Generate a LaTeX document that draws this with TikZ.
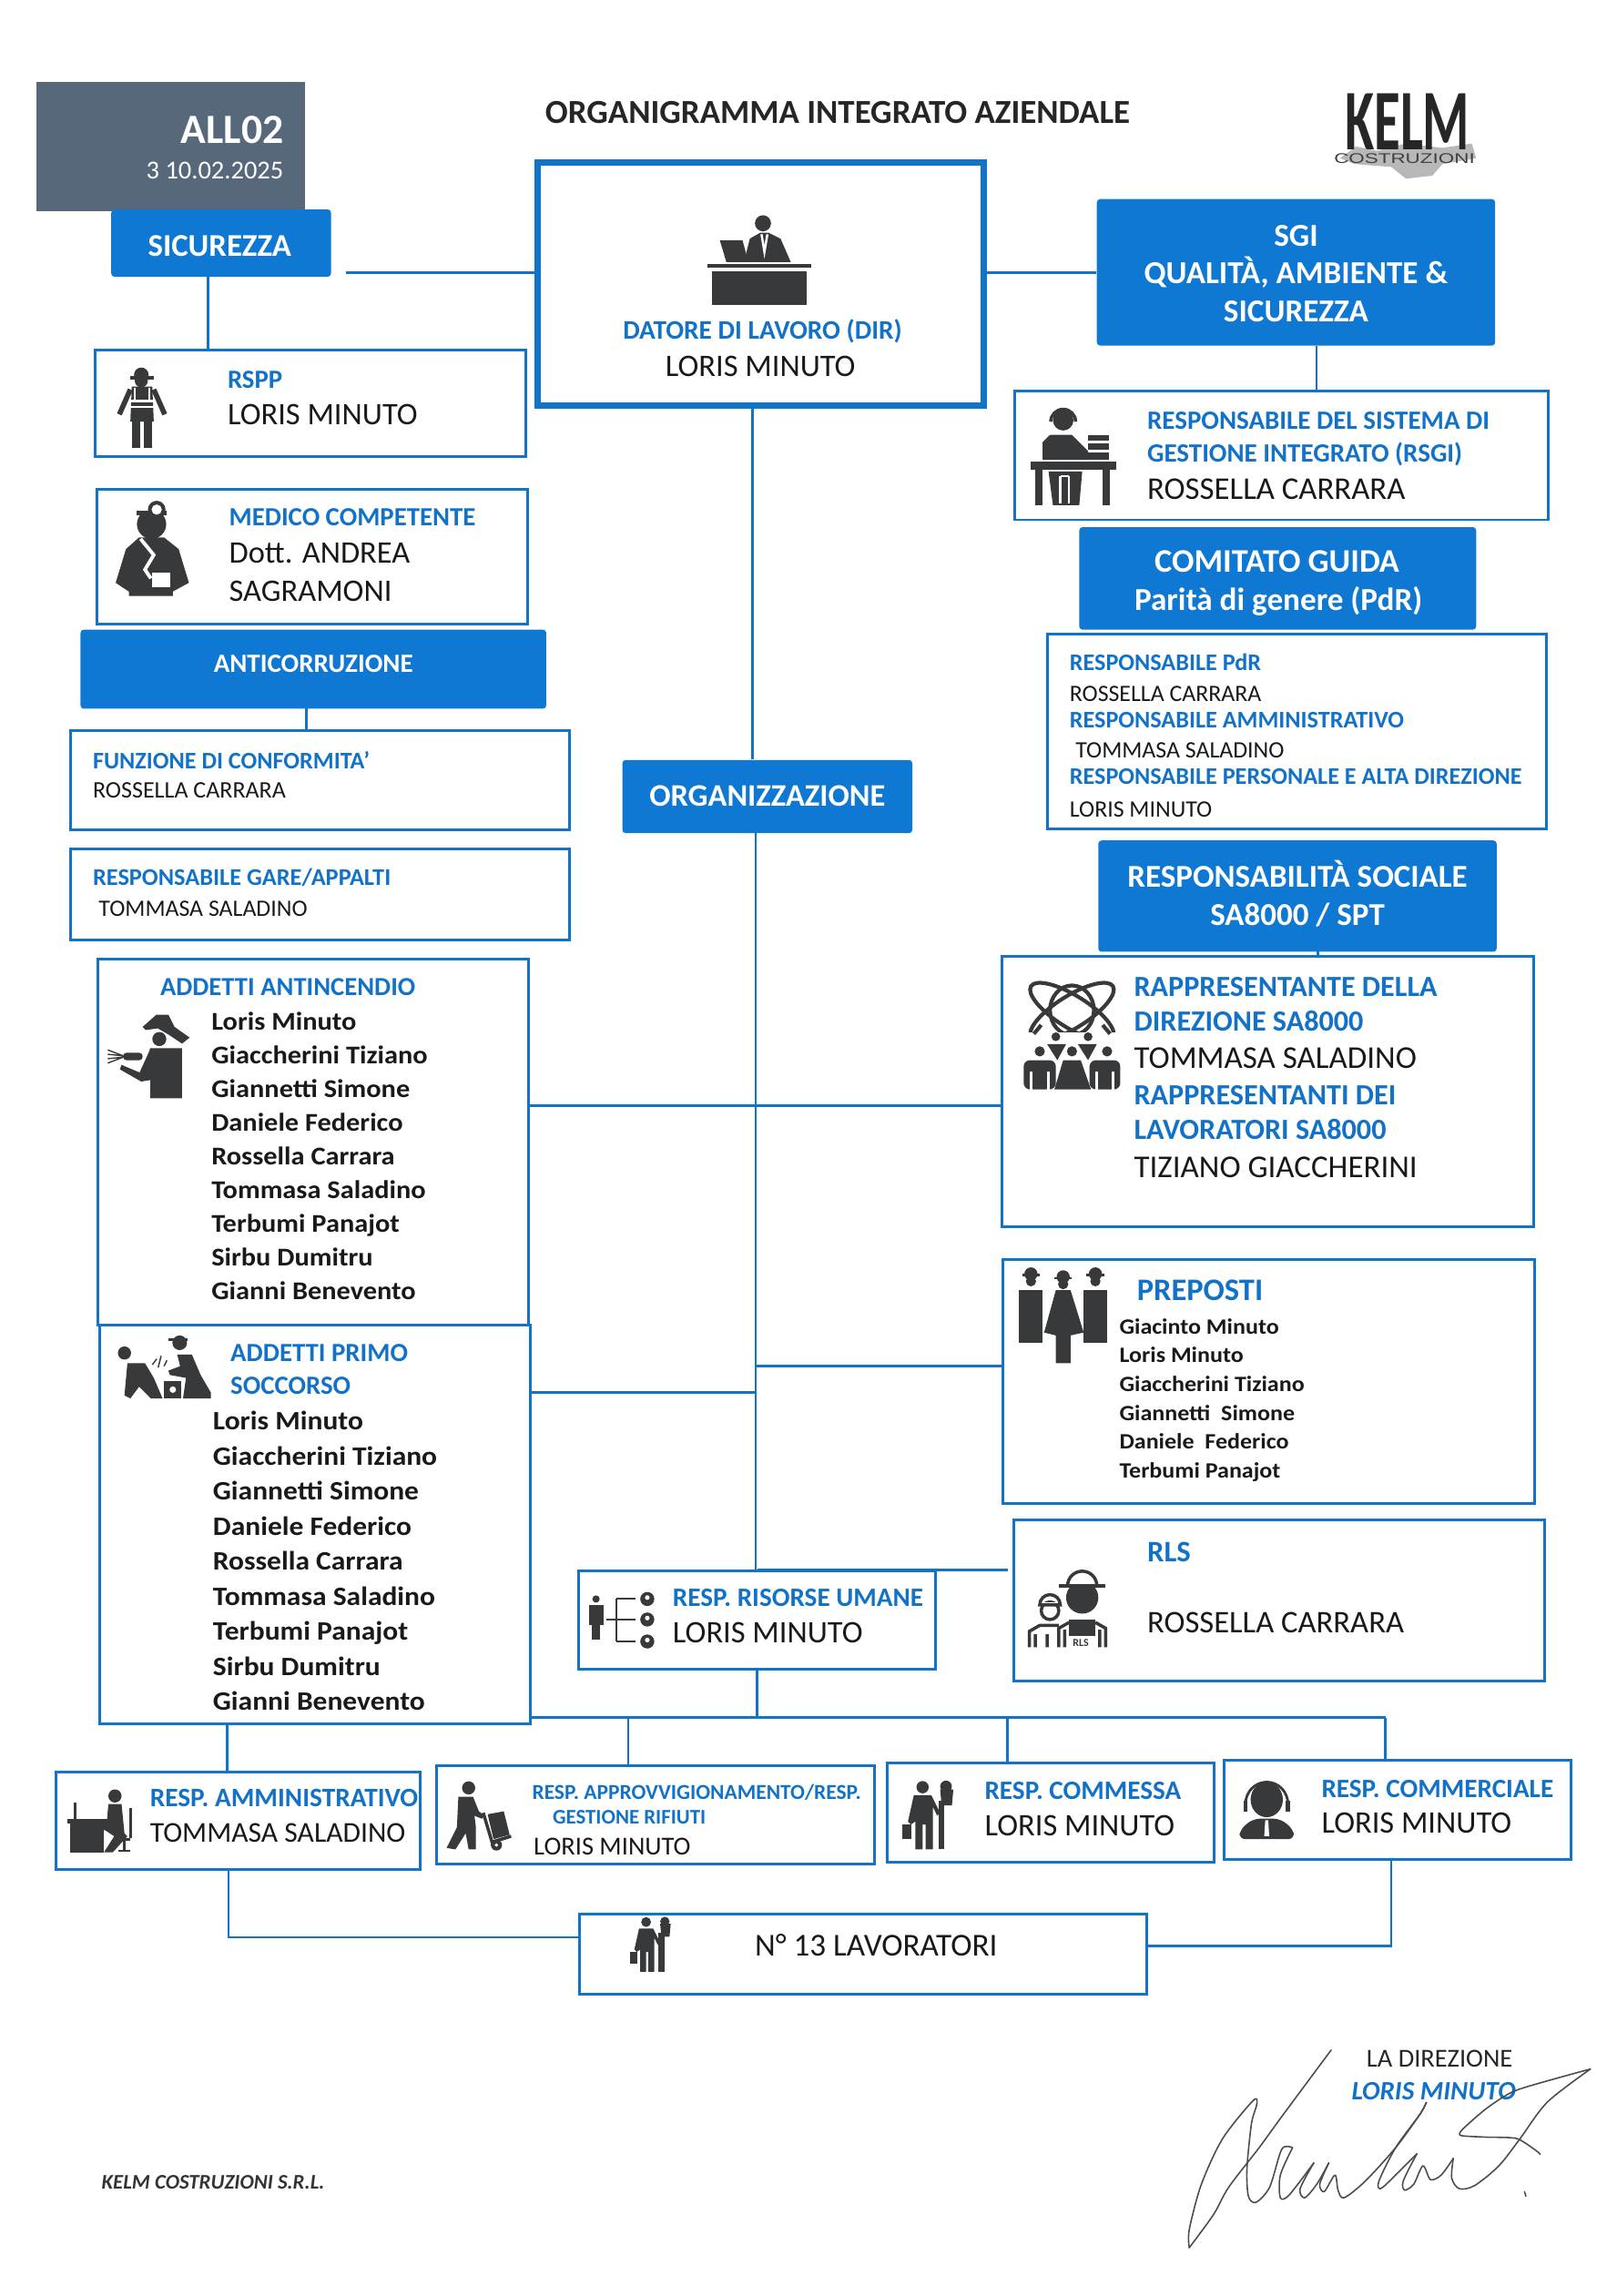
\documentclass[tikz,border=0pt]{standalone}
\usepackage{fontspec}
\usepackage{xcolor}
\usepackage{tikz}
\usetikzlibrary{positioning, calc, fit}
\setmainfont{Carlito}
\newfontfamily\logofont[FakeStretch=0.62]{Carlito}
\newfontfamily\logowide[FakeStretch=1.45]{Liberation Sans}
\newfontfamily\widefont[FakeStretch=1.08]{Carlito}
\newcommand{\fs}[2]{\fontsize{#1}{#2}\selectfont}
\definecolor{barblue}{HTML}{0E78D2}
\definecolor{lineblue}{HTML}{1274C8}
\definecolor{roleblue}{HTML}{1272C8}
\definecolor{slategrey}{HTML}{566879}
\definecolor{icondark}{HTML}{38393B}
\tikzset{
  outbox/.style={draw=lineblue, line width=0.85pt, inner sep=0pt},
  bossbox/.style={draw=lineblue, line width=2pt, inner sep=0pt},
  bluebar/.style={fill=barblue, rounded corners=1pt, inner sep=0pt},
  bartext/.style={text=white, inner sep=0pt, align=center, anchor=mid, yshift=-0.8pt, font=\bfseries\fs{#1}{#1}},
  rolet/.style={text=roleblue, inner sep=0pt, anchor=mid west, yshift=-0.3pt, font=\bfseries\fs{#1}{#1}},
  rolet/.default=8.3,
  persont/.style={text=black!90, inner sep=0pt, anchor=mid west, yshift=-0.7pt, font=\fs{#1}{#1}},
  persont/.default=9.8,
  teamlist/.style 2 args={text=black!90, inner sep=0pt, anchor=north west, align=left, font=\widefont\bfseries\fs{#1}{#2}},
  conn/.style={draw=lineblue, line width=0.8pt},
  iconfill/.style={fill=icondark, draw=none},
  iconline/.style={draw=icondark, line width=1pt},
  iconhole/.style={draw=white, line width=0.7pt},
  penline/.style={draw=black!70, line width=0.45pt, line cap=round, line join=round},
  deskboss/.pic={
    \fill[iconfill] (38,6.5) circle (5.5);
    \fill[iconfill] (25,33) -- (29,17) -- (36,13) -- (42,13) -- (50,17) -- (57,33) -- cycle;
    \fill[iconfill] (8.5,18) -- (24,18) -- (28,33) -- (13,33) -- cycle;
    \draw[iconhole] (37,14) -- (39,26) -- (41,14);
    \fill[iconfill] (0,34.5) rectangle (71,37);
    \fill[iconfill] (3,39.5) rectangle (68,62);
  },
  vestman/.pic={
    \fill[iconfill] (16.5,6) circle (5);
    \fill[iconfill] (9,7) rectangle (25,9);
    \fill[iconfill] (16.5,10) circle (4.5);
    \fill[iconfill] (10,14) -- (24,14) -- (25,38) -- (9,38) -- cycle;
    \fill[iconfill] (10,38) rectangle (15.5,56);
    \fill[iconfill] (18,38) rectangle (24,56);
    \draw[iconline, line width=1.6pt] (9,16) -- (1.5,33);
    \draw[iconline, line width=1.6pt] (25,16) -- (32.5,33);
    \draw[iconhole] (9,24) -- (25,24) (9,28) -- (25,28) (12,15) -- (12,24) (22,15) -- (22,24);
  },
  doctorman/.pic={
    \fill[iconfill] (25.5,15) circle (10);
    \fill[white] (20,0) rectangle (36,8);
    \fill[iconfill] (15,6) rectangle (36,9);
    \fill[iconfill] (29,5) circle (6);
    \fill[white] (29,5) circle (3.5);
    \fill[iconfill] (17,24) -- (34,24) -- (44,32) -- (51,55) -- (40,61) -- (40,64) -- (10,64) -- (10,61) -- (1,55) -- (8,32) -- cycle;
    \draw[iconhole, line width=1.1pt] (18,25) -- (27,36) -- (21,46) -- (25,52);
    \fill[white] (26,48) rectangle (38,58);
  },
  bookdesk/.pic={
    \fill[iconfill] (22,9) circle (7);
    \draw[iconline] (13.5,10) arc (180:360:8.5);
    \fill[iconfill] (13,19) -- (28,19) -- (39,30) -- (39,36) -- (8,36) -- (8,24) -- cycle;
    \fill[iconfill] (39,19) rectangle (53,23);
    \fill[iconfill] (39,25) rectangle (53,29);
    \fill[iconfill] (39,31) rectangle (53,36);
    \fill[iconfill] (0,37) rectangle (58,43);
    \fill[iconfill] (3,43) rectangle (8,67);
    \fill[iconfill] (49,43) rectangle (54,67);
    \fill[iconfill] (12,44) -- (35,44) -- (33,67) -- (15,67) -- cycle;
    \draw[iconhole] (20,47) -- (20,66) (26,47) -- (26,66) (20,47) -- (26,47);
  },
  fireman/.pic={
    \fill[iconfill] (24.4,9.3) -- (33.7,1) -- (42,1) -- (46.2,9.3) -- (56.5,16.6) -- (51.3,20.7) -- (42,14.5) -- (34.8,10.3) -- (26.5,11.4) -- cycle;
    \fill[iconfill] (35.8,17.6) circle (4.8);
    \fill[iconfill] (29.6,23.8) -- (51.3,23.8) -- (51.3,58) -- (29.6,58) -- (29.6,45.6) -- (23.4,46.6) -- (8.9,38.3) -- (9.9,35.2) -- (22.3,40.4) -- (28.5,26.9) -- cycle;
    \fill[iconfill, rounded corners=1pt] (11,27) rectangle (24.4,32);
    \draw[iconline, line width=0.4pt] (11,29) -- (0.6,25) (11,29) -- (0.6,28) (11,30) -- (0.6,31) (11,30) -- (0.6,34);
  },
  firstaid/.pic={
    \fill[iconfill] (4,13) circle (4.5);
    \fill[iconfill] (6,20) -- (18,20) -- (24,30) -- (30,44) -- (22,44) -- (14,36) -- (8,44) -- (4,42) -- cycle;
    \fill[iconfill] (41.7,6) circle (5);
    \fill[iconfill] (34,3) rectangle (47,5);
    \fill[iconfill] (40,14) -- (50,14) -- (56,28) -- (63,40) -- (63,44) -- (44,44) -- (46,30) -- (35,28) -- (34,25) -- (42,22) -- cycle;
    \fill[iconfill] (31,32) rectangle (43,44);
    \fill[white] (37,38) circle (2.2);
    \draw[iconline, line width=0.4pt] (23,21) -- (26,17) (27,23) -- (29,15) (31,22) -- (33,18);
  },
  atompeople/.pic={
    \draw[iconline, line width=1.2pt] (33,19) ellipse [x radius=33, y radius=11, rotate=32];
    \draw[iconline, line width=1.2pt] (33,19) ellipse [x radius=33, y radius=11, rotate=-32];
    \draw[iconline, line width=1.2pt] (33,18) ellipse [x radius=15, y radius=17];
    \fill[white] (-2,33) rectangle (70,74);
    \draw[iconline, line width=1.2pt] (7,34) -- (12,28) (59,34) -- (54,28);
    \fill[iconfill] (22,36) circle (3);
    \fill[iconfill] (44,36) circle (3);
    \fill[iconfill] (11,46) circle (3.5);
    \fill[iconfill] (33,46) circle (3.5);
    \fill[iconfill] (57,46) circle (3.5);
    \fill[iconfill] (16,41) -- (29,41) -- (23,52) -- cycle;
    \fill[iconfill] (37,41) -- (50,41) -- (44,52) -- cycle;
    \fill[iconfill, rounded corners=2pt] (0,52) rectangle (22,72);
    \fill[iconfill] (27,52) -- (39,52) -- (46,72) -- (21,72) -- cycle;
    \fill[iconfill, rounded corners=2pt] (45,52) rectangle (66,72);
    \draw[iconhole] (5,60) -- (5,72) (17,60) -- (17,72) (50,60) -- (50,72) (61,60) -- (61,72);
  },
  threeworkers/.pic={
    \foreach \px/\py in {8/4,30/6,52/4}{
      \fill[iconfill] (\px,\py) circle (4.5);
      \fill[iconfill] (\px-6,\py) rectangle (\px+6,\py+1.5);
      \fill[iconfill] (\px,\py+5) circle (3.5);
    }
    \fill[iconfill] (0,15) rectangle (16,51);
    \fill[iconfill] (44,15) rectangle (60,51);
    \fill[iconfill] (25,15) -- (35,15) -- (44,44) -- (35,46) -- (35,65) -- (25,65) -- (25,46) -- (17,44) -- cycle;
  },
  orgchart/.pic={
    \fill[iconfill] (5,3) circle (2.5);
    \fill[iconfill] (0,7) rectangle (10,21);
    \fill[iconfill] (2,21) rectangle (8,31);
    \draw[iconline, line width=0.6pt] (12,17) -- (19,17) (19,3) -- (19,32) (19,3) -- (32,3) (19,17) -- (32,17) (19,32) -- (32,32);
    \fill[iconfill] (40,3) circle (4.8);
    \fill[iconfill] (40,17) circle (4.8);
    \fill[iconfill] (40,32) circle (4.8);
    \fill[white] (40,2) circle (1.6);
    \fill[white] (40,16) circle (1.6);
    \fill[white] (40,31) circle (1.6);
  },
  rlsworkers/.pic={
    \fill[iconfill] (36,20) circle (11);
    \filldraw[fill=white, draw=icondark, line width=1pt] (26,12) arc (180:360:10) -- cycle;
    \draw[iconline] (20,12) -- (52,12);
    \draw[iconline] (20,54) -- (20,41) -- (27,37) (52,54) -- (52,41) -- (45,37) (24,54) -- (24,42) (48,54) -- (48,42);
    \fill[iconfill] (27,35) rectangle (45,46);
    \draw[iconline] (14,29) circle (6);
    \fill[white] (7,23) rectangle (21,26);
    \draw[iconline] (7,25) arc (180:360:7) -- cycle;
    \draw[iconline] (0,54) -- (0,43) -- (7,39) -- (20,39) (4,54) -- (4,45) (12,54) -- (12,45);
    \node[font=\bfseries\fs{3.4}{3.4}, text=icondark, inner sep=0pt] (rlstag) at (35,51) {RLS};
  },
  officeman/.pic={
    \fill[iconfill] (32.5,4.5) circle (4.5);
    \fill[iconfill] (28,10) -- (37,10) -- (39,30) -- (41,32) -- (31,43) -- (25,43) -- (32,32) -- (26,28) -- (16,27) -- (16,23) -- (27,22) -- cycle;
    \fill[iconfill] (0,20) rectangle (28,23);
    \fill[iconfill] (2,23) rectangle (25,43);
    \draw[iconline, line width=0.8pt] (5.5,9) -- (5.5,20) (43,13) -- (43,33) (34,34) -- (43,34) (39,34) -- (39,42) (35,42) -- (43,42);
  },
  trolleyman/.pic={
    \fill[iconfill] (15,5) circle (4.5);
    \fill[iconfill] (8,11) -- (18,11) -- (22,21) -- (26,24) -- (24,26) -- (19,24) -- (20,32) -- (20,47) -- (15,47) -- (13,36) -- (6,47) -- (0,46) -- (7,32) -- cycle;
    \fill[iconfill] (28,23) -- (39,21) -- (43,37) -- (32,40) -- cycle;
    \draw[iconline] (25,22) -- (31,42) -- (44,38);
    \fill[iconfill] (34,44) circle (3.8);
    \fill[white] (34,44) circle (1.2);
  },
  engineerman/.pic={
    \fill[iconfill] (14,4.5) circle (4.2);
    \fill[iconfill] (8,10) -- (20,10) -- (26,22) -- (24,24) -- (21,18) -- (21,47) -- (16,47) -- (16,30) -- (14,30) -- (14,47) -- (9,47) -- (9,28) -- (6,30) -- (4,28) -- cycle;
    \fill[iconfill] (0,30) rectangle (6.5,40);
    \draw[iconline, line width=1.8pt] (27,14) -- (27,47);
    \fill[iconfill] (30,4) circle (4);
    \fill[iconfill] (26,6) -- (35,6) -- (34,17) -- (27,17) -- cycle;
  },
  headsetman/.pic={
    \fill[iconfill] (19,13) ellipse (11 and 12);
    \draw[iconline, line width=0.8pt] (4.5,16) arc (180:360:14.5 and 15);
    \fill[iconfill] (3,14) rectangle (6,21);
    \fill[iconfill] (32,14) rectangle (35,21);
    \fill[iconfill, rounded corners=2pt] (10,26) -- (28,26) -- (37,33) -- (38,40) -- (0,40) -- (1,33) -- cycle;
    \fill[white] (18,27) -- (20,27) -- (20.7,38) -- (17.3,38) -- cycle;
  }
}
\begin{document}
\begin{tikzpicture}[x=0.016087cm, y=-0.016084cm]
  \useasboundingbox (0,0) rectangle (1104,1568);
  % top of the page
  \node[fill=slategrey, inner sep=0pt, fit={(25,56) (208,144)}] (allbox) {};
  \node[bartext=13, anchor=mid east] (alltxt) at (194,91) {ALL02};
  \node[text=white, inner sep=0pt, anchor=mid east, font=\fs{8.1}{8.1}] (revtxt) at (194,117) {3 10.02.2025};
  \node[inner sep=0pt, text=black!85, font=\bfseries\fs{10.5}{10.5}] (maintitle) at (572,77) {ORGANIGRAMMA INTEGRATO AZIENDALE};
  \fill[black!28] (915,108) -- (926,100) -- (940,103) -- (960,98) -- (985,101) -- (1005,98) -- (1008,108) -- (985,112) -- (978,120) -- (960,122) -- (950,114) -- (925,112) -- cycle;
  \node[inner sep=0pt, text=black!85, font=\logofont\bfseries\fs{27}{27}] (kelm) at (961,83) {KELM};
  \node[inner sep=0pt, text=black!75, font=\logowide\fs{4.4}{4.4}] (costr) at (959,108) {COSTRUZIONI};

  % blue bars
  \node[bluebar, fit={(76,143) (226,189)}] (sicurezza) {};
  \node[bartext=9.9] (sicutxt) at (150,168) {SICUREZZA};
  \node[bluebar, fit={(55,430) (373,484)}] (anticorr) {};
  \node[bartext=8.25] (anticorrtxt) at (214,452) {ANTICORRUZIONE};
  \node[bluebar, fit={(425,519) (623,569)}] (orgz) {};
  \node[bartext=9.8] (orgztxt) at (524,543.5) {ORGANIZZAZIONE};
  \node[bluebar, fit={(749,136) (1021,236)}] (sgi) {};
  \node[bartext=10] (sgitxt1) at (885,161) {SGI};
  \node[bartext=10] (sgitxt2) at (885,187) {QUALITÀ, AMBIENTE \&};
  \node[bartext=10] (sgitxt3) at (885,213) {SICUREZZA};
  \node[bluebar, fit={(737,360) (1008,430)}] (comitato) {};
  \node[bartext=10.3] (comitxt1) at (872,384) {COMITATO GUIDA};
  \node[bartext=10] (comitxt2) at (873,410) {Parità di genere (PdR)};
  \node[bluebar, fit={(750,574) (1022,650)}] (sociale) {};
  \node[bartext=9.95] (socitxt1) at (886,599) {RESPONSABILITÀ SOCIALE};
  \node[bartext=9.95] (socitxt2) at (886,625) {SA8000 / SPT};

  % outlined boxes
  \node[bossbox, fit={(367,111) (672,277)}] (datore) {};
  \node[outbox, fit={(65,239) (359,312)}] (rspp) {};
  \node[outbox, fit={(66,334) (360,426)}] (medico) {};
  \node[outbox, fit={(48,499) (389,567)}] (conform) {};
  \node[outbox, fit={(48,580) (389,642)}] (gare) {};
  \node[outbox, fit={(67,655) (361,905)}] (antinc) {};
  \node[outbox, fit={(68,905) (362,1177)}] (soccorso) {};
  \node[outbox, fit={(693,267) (1057,355)}] (rsgi) {};
  \node[outbox, fit={(715,433) (1056,566)}] (pdr) {};
  \node[outbox, fit={(684,653) (1047,838)}] (rappr) {};
  \node[outbox, fit={(685,860) (1048,1027)}] (preposti) {};
  \node[outbox, fit={(692,1038) (1055,1148)}] (rls) {};
  \node[outbox, fit={(395,1073) (639,1140)}] (risorse) {};
  \node[outbox, fit={(38,1210) (287,1277)}] (ammin) {};
  \node[outbox, fit={(298,1206) (597,1273)}] (approv) {};
  \node[outbox, fit={(606,1204) (829,1272)}] (commessa) {};
  \node[outbox, fit={(836,1202) (1073,1270)}] (commerc) {};
  \node[outbox, fit={(396,1307) (783,1362)}] (crew) {};

  % texts of the boxes
  \node[rolet=8.35] (dirrole) at (425,226) {DATORE DI LAVORO (DIR)};
  \node[persont] (dirname) at (454,250.5) {LORIS MINUTO};
  \node[rolet=8.2] (rspprole) at (155,259) {RSPP};
  \node[persont] (rsppname) at (155,283) {LORIS MINUTO};
  \node[rolet=8.2] (medrole) at (156,353) {MEDICO COMPETENTE};
  \node[persont] (medname1) at (156,378) {Dott. ANDREA};
  \node[persont] (medname2) at (156,404) {SAGRAMONI};
  \node[rolet=7.45] (confrole) at (63,519) {FUNZIONE DI CONFORMITA’};
  \node[persont=7.4] (confname) at (63,538) {ROSSELLA CARRARA};
  \node[rolet=7.5] (garerole) at (63,599) {RESPONSABILE GARE/APPALTI};
  \node[persont=7.35] (garename) at (67,619) {TOMMASA SALADINO};
  \node[rolet=8.15] (firerole) at (109,674) {ADDETTI ANTINCENDIO};
  \node[teamlist={8}{10.5}] (firelist) at (144,691) {Loris Minuto\\Giaccherini Tiziano\\Giannetti Simone\\Daniele Federico\\Rossella Carrara\\Tommasa Saladino\\Terbumi Panajot\\Sirbu Dumitru\\Gianni Benevento};
  \node[rolet=8.2] (aidrole1) at (157,924) {ADDETTI PRIMO};
  \node[rolet=8.2] (aidrole2) at (157,946) {SOCCORSO};
  \node[teamlist={8.3}{10.95}] (aidlist) at (145,963.5) {Loris Minuto\\Giaccherini Tiziano\\Giannetti Simone\\Daniele Federico\\Rossella Carrara\\Tommasa Saladino\\Terbumi Panajot\\Sirbu Dumitru\\Gianni Benevento};
  \node[rolet=8.25] (rsgirole1) at (783,287) {RESPONSABILE DEL SISTEMA DI};
  \node[rolet=8.25] (rsgirole2) at (783,309.5) {GESTIONE INTEGRATO (RSGI)};
  \node[persont=9.9] (rsginame) at (783,334) {ROSSELLA CARRARA};
  \node[rolet=7.45] (pdrrole1) at (730,452) {RESPONSABILE PdR};
  \node[persont=7.35] (pdrname1) at (730,472) {ROSSELLA CARRARA};
  \node[rolet=7.45] (pdrrole2) at (730,491) {RESPONSABILE AMMINISTRATIVO};
  \node[persont=7.35] (pdrname2) at (734,511) {TOMMASA SALADINO};
  \node[rolet=7.45] (pdrrole3) at (730,530) {RESPONSABILE PERSONALE E ALTA DIREZIONE};
  \node[persont=7.35] (pdrname3) at (730,551) {LORIS MINUTO};
  \node[rolet=9.15] (raprole1) at (774,674.5) {RAPPRESENTANTE DELLA};
  \node[rolet=9.15] (raprole2) at (774,698.5) {DIREZIONE SA8000};
  \node[persont=9.95] (rapname1) at (774,723) {TOMMASA SALADINO};
  \node[rolet=9.15] (raprole3) at (774,748.5) {RAPPRESENTANTI DEI};
  \node[rolet=9.15] (raprole4) at (774,772.5) {LAVORATORI SA8000};
  \node[persont=9.95] (rapname2) at (774,797.5) {TIZIANO GIACCHERINI};
  \node[rolet=9.8] (preprole) at (776,882.5) {PREPOSTI};
  \node[teamlist={6.85}{9}] (preplist) at (764,900) {Giacinto Minuto\\Loris Minuto\\Giaccherini Tiziano\\Giannetti~ Simone\\Daniele~ Federico\\Terbumi Panajot};
  \node[rolet=9.3] (rlsrole) at (783,1061) {RLS};
  \node[persont=9.85] (rlsname) at (783,1108) {ROSSELLA CARRARA};
  \node[rolet=8.3] (hrrole) at (459,1091) {RESP. RISORSE UMANE};
  \node[persont] (hrname) at (459,1115) {LORIS MINUTO};
  \node[rolet=8.35] (admrole) at (102,1228) {RESP. AMMINISTRATIVO};
  \node[persont=9] (admname) at (102,1251) {TOMMASA SALADINO};
  \node[rolet=6.67] (apprrole1) at (363,1223) {RESP. APPROVVIGIONAMENTO/RESP.};
  \node[rolet=6.5] (apprrole2) at (377,1240) {GESTIONE RIFIUTI};
  \node[persont=8.1] (apprname) at (364,1260) {LORIS MINUTO};
  \node[rolet=8.3] (commrole) at (672,1223) {RESP. COMMESSA};
  \node[persont] (commname) at (672,1247) {LORIS MINUTO};
  \node[rolet=8.3] (sellrole) at (902,1222) {RESP. COMMERCIALE};
  \node[persont] (sellname) at (902,1245) {LORIS MINUTO};
  \node[persont=10] (crewname) at (515,1329) {N° 13 LAVORATORI};

  % pictograms
  \pic at (483,146) {deskboss};
  \pic at (80,250) {vestman};
  \pic at (78,343) {doctorman};
  \pic at (704,278) {bookdesk};
  \pic at (73,692) {fireman};
  \pic at (81,911) {firstaid};
  \pic at (699,672) {atompeople};
  \pic at (696,866) {threeworkers};
  \pic at (402,1089) {orgchart};
  \pic at (703,1071) {rlsworkers};
  \pic at (46,1222) {officeman};
  \pic at (305,1216) {trolleyman};
  \pic at (616,1216) {engineerman};
  \pic at (846,1216) {headsetman};
  \pic[scale=0.8] at (430,1309) {engineerman};

  % connectors
  \coordinate (sicuend) at (236,186);
  \coordinate (sicudrop) at (142,189);
  \coordinate (sgidrop) at (899,236);
  \coordinate (corrdrop) at (209,484);
  \coordinate (socidrop) at (900,650);
  \coordinate (spinetop) at (514,277);
  \coordinate (spinemid) at (516,569);
  \coordinate (spinelow) at (517,1140);
  \coordinate (firelink) at (516,755);
  \coordinate (preplink) at (516,933);
  \coordinate (aidlink) at (516,951);
  \coordinate (rlslink) at (517,1072);
  \coordinate (rlsend) at (688,1072);
  \coordinate (busleft) at (155,1173);
  \coordinate (busstop) at (429,1173);
  \coordinate (buscomm) at (688,1173);
  \coordinate (busright) at (946,1173);
  \coordinate (crewleft) at (156,1323);
  \coordinate (crewright) at (950,1329);
  \draw[conn] (sicuend) -- (sicuend -| datore.west);
  \draw[conn] (sicudrop) -- (sicudrop |- rspp.north);
  \draw[conn] (datore.east |- sgi.west) -- (sgi.west);
  \draw[conn] (sgidrop) -- (sgidrop |- rsgi.north);
  \draw[conn] (corrdrop) -- (corrdrop |- conform.north);
  \draw[conn] (socidrop) -- (socidrop |- rappr.north);
  \draw[conn] (spinetop) -- (spinetop |- orgz.north);
  \draw[conn] (spinemid) -- (spinemid |- risorse.north);
  \draw[conn] (firelink -| antinc.east) -- (firelink -| rappr.west);
  \draw[conn] (preplink) -- (preplink -| preposti.west);
  \draw[conn] (aidlink -| soccorso.east) -- (aidlink);
  \draw[conn] (rlslink) -- (rlsend);
  \draw[conn] (spinelow) -- (spinelow |- busleft);
  \draw[conn] (busleft -| soccorso.east) -- (busright);
  \draw[conn] (busleft |- soccorso.south) -- (busleft |- ammin.north);
  \draw[conn] (busstop) -- (busstop |- approv.north);
  \draw[conn] (buscomm) -- (buscomm |- commessa.north);
  \draw[conn] (busright) -- (busright |- commerc.north);
  \draw[conn] (crewleft |- ammin.south) -- (crewleft) -- (crewleft -| crew.west);
  \draw[conn] (crewright |- commerc.south) -- (crewright) -- (crewright -| crew.east);

  % foot of the page
  \node[inner sep=0pt, text=black!85, font=\fs{8.1}{8.1}] (ladir) at (983,1406) {LA DIREZIONE};
  \node[inner sep=0pt, text=roleblue, font=\bfseries\itshape\fs{8.3}{8.3}] (ladirname) at (979,1428) {LORIS MINUTO};
  \node[inner sep=0pt, text=black!80, anchor=mid west, font=\bfseries\itshape\fs{6.5}{6.5}] (company) at (69,1490) {KELM COSTRUZIONI S.R.L.};
  \draw[penline] plot[smooth, tension=0.5] coordinates {(909,1400) (876.4,1443.9) (859.8,1466.7) (839.1,1493.6) (828.7,1512.3) (812.1,1535)};
  \draw[penline] plot[smooth, tension=0.5] coordinates {(812.1,1535) (812.1,1522.6) (820.4,1491.6) (834.9,1460.5) (855.6,1434.6) (858.3,1436.7) (854.6,1450.1) (851.5,1481.2) (852.5,1499.9) (857.7,1504) (867,1493.6) (875.3,1467.7) (882.6,1466.7)};
  \draw[penline] plot[smooth, tension=0.5] coordinates {(882.6,1466.7) (874.3,1485.4) (874.3,1500.9) (880.5,1498.8) (897.1,1477.1)};
  \draw[penline] plot[smooth, tension=0.5] coordinates {(897.1,1477.1) (887.8,1494.7) (890.9,1500.9) (899.2,1491.6) (907.4,1477.1)};
  \draw[penline] plot[smooth, tension=0.5] coordinates {(907.4,1477.1) (901.2,1491.6) (904.3,1496.7) (911.6,1485.4) (913.7,1495.7) (917.8,1500.9) (932.3,1489.5) (953,1466.7) (969.6,1443.9) (974,1435.8)};
  \draw[penline] plot[smooth, tension=0.5] coordinates {(974,1435.8) (969.6,1443.9) (953,1466.7) (941.6,1489.5) (942.7,1494.7) (951,1487.4) (967.5,1470.9)};
  \draw[penline] plot[smooth, tension=0.5] coordinates {(967.5,1470.9) (958.2,1489.5) (959.2,1495.7) (965.4,1491.6) (971.7,1479.1) (976.8,1488.5) (984.1,1485.4) (992.4,1474)};
  \draw[penline] plot[smooth, tension=0.5] coordinates {(992.4,1474) (991.3,1487.4) (996.5,1494.7) (1006.9,1492.6) (1023.5,1479.1) (1038,1460.5) (1056.6,1435.6) (1086,1413)};
  \draw[penline] plot[smooth, tension=0.4] coordinates {(1086,1413) (1035.9,1427.3) (1015.2,1439.8) (998.6,1454.3) (997.6,1458.4) (1015.2,1459.5) (1035.9,1460.5) (1050.4,1469.8) (1051.4,1471.3)};
  \draw[penline] (1041,1496.7) -- (1042,1499.9);
\end{tikzpicture}
\end{document}
